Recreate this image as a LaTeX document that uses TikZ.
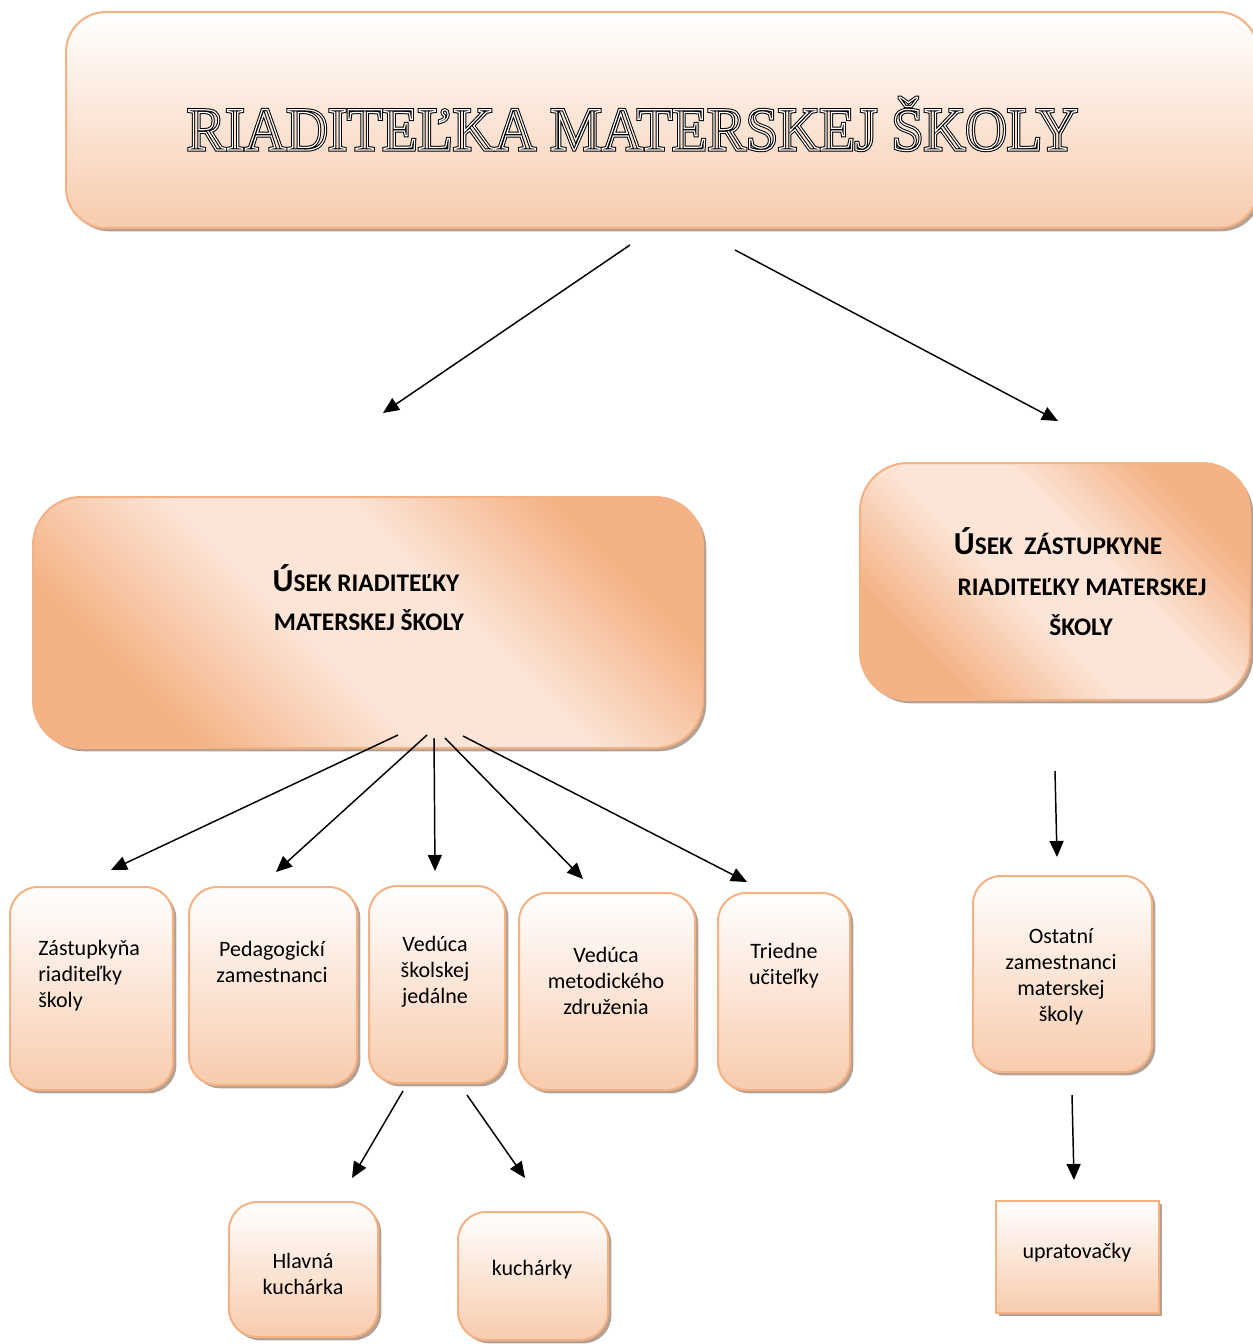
\documentclass[tikz,border=0pt]{standalone}
\usepackage{fontspec}
\setmainfont{Carlito}
\newfontfamily\titlefont[FakeStretch=0.94]{Liberation Serif}
\usetikzlibrary{shadows,arrows.meta}
\definecolor{peach}{HTML}{F4B183}
\definecolor{peachl}{HTML}{F8CBAD}
\definecolor{peachxl}{HTML}{FCE4D6}
\definecolor{shad}{HTML}{A89080}
\pgfdeclareverticalshading{secshade}{100bp}{color(0bp)=(peach); color(27bp)=(peach); color(44bp)=(peachxl); color(58bp)=(peachxl); color(74bp)=(peach); color(100bp)=(peach)}
\newcommand\bigU[1]{{\fontsize{24}{24}\selectfont #1}}
\tikzset{
  base/.style={draw=peach, line width=1.5pt,
    drop shadow={shadow xshift=2.5pt, shadow yshift=-2.5pt, fill=shad, opacity=0.85}},
  topbox/.style={base, rounded corners=30pt, top color=white, bottom color=peachl},
  secbox/.style={base, rounded corners=36pt, shading=secshade, shading angle=-45},
  smallbox/.style={base, rounded corners=21pt, top color=white, bottom color=peachl},
  sqbox/.style={base, rounded corners=0pt, top color=white, bottom color=peachl},
  arr/.style={-{Triangle[length=12pt,width=10.5pt]}, line width=1.1pt},
  lbl/.style={font=\fontsize{16.5}{19.5}\selectfont, align=center, inner sep=0pt},
  seclbl/.style={font=\bfseries\fontsize{19}{19}\selectfont, inner sep=0pt, anchor=base},
}
\begin{document}
\begin{tikzpicture}[x=0.75pt,y=-0.75pt]
\useasboundingbox (0,0) rectangle (1252,1344);

% boxes
\node[topbox, minimum width=894pt, minimum height=162pt] (top) at (662,120) {};
\node[secbox, minimum width=502.5pt, minimum height=188.25pt] (secL) at (368,622.5) {};
\node[secbox, minimum width=292.5pt, minimum height=177.75pt] (secR) at (1055,581.5) {};
\node[smallbox, minimum width=122.25pt, minimum height=152.25pt] (zas) at (91.5,988.5) {};
\node[smallbox, minimum width=126pt, minimum height=148.5pt] (ped) at (273,986) {};
\node[smallbox, minimum width=102pt, minimum height=147.75pt] (vjed) at (437,984.5) {};
\node[smallbox, minimum width=132pt, minimum height=147.75pt] (vmet) at (607,991.5) {};
\node[smallbox, minimum width=99pt, minimum height=147.75pt] (tri) at (784,991.5) {};
\node[smallbox, minimum width=134.25pt, minimum height=147pt] (ost) at (1062.5,974) {};
\node[sqbox, minimum width=122.25pt, minimum height=84pt] (upr) at (1077.5,1257) {};
\node[smallbox, minimum width=111.75pt, minimum height=101.25pt] (hlk) at (303.5,1269.5) {};
\node[smallbox, minimum width=112.5pt, minimum height=96pt] (kuch) at (533,1276) {};

% title (double outline)
\node[anchor=base, inner sep=0pt] (title) at (632.5,150)
  {\titlefont\fontsize{46}{46}\selectfont\special{pdf:literal direct 1 Tr 2.4 w 0 G}RIADITEĽKA MATERSKEJ ŠKOLY\special{pdf:literal direct 0 Tr 0.4 w}};
\node[anchor=base, inner sep=0pt] (titleb) at (632.5,150)
  {\titlefont\fontsize{46}{46}\selectfont\special{pdf:literal direct 1 Tr 0.9 w 1 G}RIADITEĽKA MATERSKEJ ŠKOLY\special{pdf:literal direct 0 Tr 0 G 0.4 w}};

% section texts
\node[seclbl] (sl1) at (366,591) {\bigU{Ú}SEK RIADITEĽKY};
\node[seclbl] (sl2) at (369,630) {MATERSKEJ ŠKOLY};
\node[seclbl] (sr1) at (1058,554) {\bigU{Ú}SEK\ \ ZÁSTUPKYNE};
\node[seclbl] (sr2) at (1082,595) {RIADITEĽKY MATERSKEJ};
\node[seclbl] (sr3) at (1081,635) {ŠKOLY};

% small texts
\node[lbl, align=left, anchor=west] (tzas) at (38,975.5) {Zástupkyňa\\riaditeľky\\školy};
\node[lbl] (tped) at (272,961.5) {Pedagogickí\\zamestnanci};
\node[lbl] (tvjed) at (435,971.5) {Vedúca\\školskej\\jedálne};
\node[lbl] (tvmet) at (606,980.5) {Vedúca\\metodického\\združenia};
\node[lbl] (ttri) at (784,965.5) {Triedne\\učiteľky};
\node[lbl] (tost) at (1061,976.5) {Ostatní\\zamestnanci\\materskej\\školy};
\node[lbl] (tupr) at (1077,1253) {upratovačky};
\node[lbl] (thlk) at (303,1273.5) {Hlavná\\kuchárka};
\node[lbl] (tkuch) at (532,1270) {kuchárky};

% connector end points
\coordinate (a1s) at (630,245);  \coordinate (a1e) at (383,413);
\coordinate (a2s) at (735,250);  \coordinate (a2e) at (1058,421);
\coordinate (b1s) at (398,735);  \coordinate (b1e) at (111,870);
\coordinate (b2s) at (427,735);  \coordinate (b2e) at (276,872);
\coordinate (b3s) at (434,738);  \coordinate (b3e) at (435,871);
\coordinate (b4s) at (445,738);  \coordinate (b4e) at (583,879);
\coordinate (b5s) at (463,736);  \coordinate (b5e) at (747,882);
\coordinate (c1s) at (1055,771); \coordinate (c1e) at (1057,857);
\coordinate (d1s) at (403,1091); \coordinate (d1e) at (352,1178);
\coordinate (d2s) at (467,1095); \coordinate (d2e) at (525,1178);
\coordinate (e1s) at (1072,1095); \coordinate (e1e) at (1074,1180);

\draw[arr] (a1s) -- (a1e);
\draw[arr] (a2s) -- (a2e);
\draw[arr] (b1s) -- (b1e);
\draw[arr] (b2s) -- (b2e);
\draw[arr] (b3s) -- (b3e);
\draw[arr] (b4s) -- (b4e);
\draw[arr] (b5s) -- (b5e);
\draw[arr] (c1s) -- (c1e);
\draw[arr] (d1s) -- (d1e);
\draw[arr] (d2s) -- (d2e);
\draw[arr] (e1s) -- (e1e);
\end{tikzpicture}
\end{document}
